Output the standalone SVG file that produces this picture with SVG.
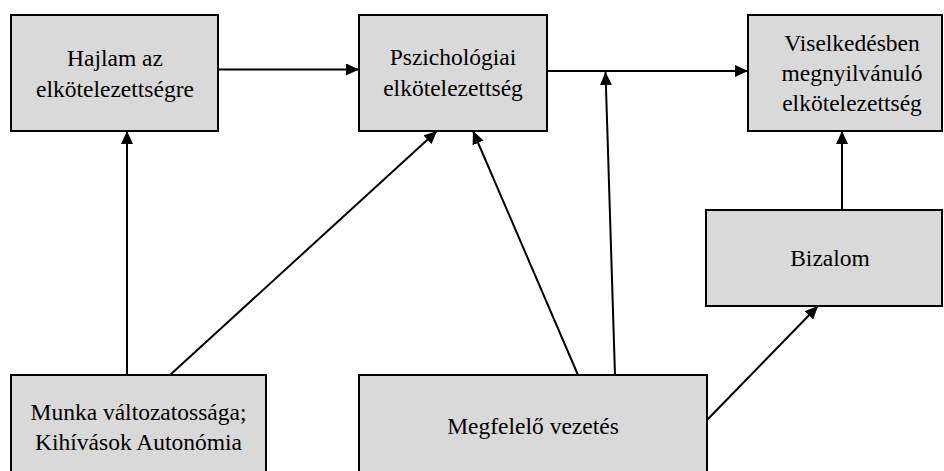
<svg xmlns="http://www.w3.org/2000/svg" width="944" height="471" viewBox="0 0 944 471">
<style>
.box{fill:#d9d9d9;stroke:#000;stroke-width:2}
.t{font-family:'Liberation Serif','Times New Roman',Tinos,'DejaVu Serif',serif;font-size:23.5px;fill:#000;text-anchor:middle}
.c{stroke:#000;stroke-width:2;fill:none}
.a{marker-end:url(#ah)}
</style>
<defs>
<marker id="ah" markerUnits="userSpaceOnUse" markerWidth="13" markerHeight="12" refX="13" refY="6" orient="auto">
<path d="M0,0 L13,6 L0,12 z" fill="#000"/>
</marker>
</defs>
<rect width="944" height="471" fill="#fff"/>
<g id="hajlam">
<rect class="box" x="11" y="15" width="207" height="116"/>
<text class="t" x="115" y="66">Hajlam az</text>
<text class="t" x="115" y="97">elkötelezettségre</text>
</g>
<g id="pszichologiai">
<rect class="box" x="359" y="15" width="188" height="116"/>
<text class="t" x="453" y="65">Pszichológiai</text>
<text class="t" x="453" y="96">elkötelezettség</text>
</g>
<g id="viselkedes">
<rect class="box" x="748" y="15" width="194" height="116"/>
<text class="t" x="852" y="51">Viselkedésben</text>
<text class="t" x="852" y="81">megnyilvánuló</text>
<text class="t" x="852" y="111">elkötelezettség</text>
</g>
<g id="bizalom">
<rect class="box" x="706" y="210" width="236" height="96"/>
<text class="t" x="830" y="266">Bizalom</text>
</g>
<g id="munka">
<rect class="box" x="11" y="375" width="255" height="110"/>
<text class="t" x="138.5" y="420">Munka változatossága;</text>
<text class="t" x="138.5" y="450">Kihívások Autonómia</text>
</g>
<g id="megfelelo">
<rect class="box" x="359" y="375" width="348" height="110"/>
<text class="t" x="533" y="434">Megfelelő vezetés</text>
</g>
<g id="connectors">
<line class="c a" x1="218" y1="69.5" x2="359" y2="69.5"/>
<line class="c a" x1="547" y1="71" x2="748" y2="71"/>
<line class="c a" x1="615" y1="375" x2="605.5" y2="72"/>
<line class="c a" x1="127" y1="375" x2="127" y2="131"/>
<line class="c a" x1="170" y1="375" x2="437" y2="131"/>
<line class="c a" x1="578" y1="375" x2="473" y2="131"/>
<line class="c a" x1="707" y1="420" x2="818" y2="306"/>
<line class="c a" x1="842" y1="210" x2="842" y2="131"/>
</g>
</svg>
